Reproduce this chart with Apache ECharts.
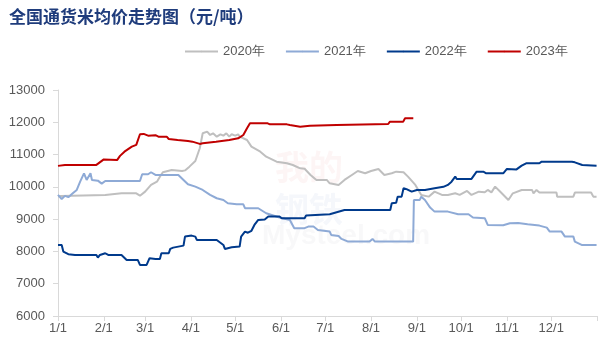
<!DOCTYPE html>
<html>
<head>
<meta charset="utf-8">
<script src="https://cdn.jsdelivr.net/npm/echarts@6/dist/echarts.min.js"></script>
<style>
html,body{margin:0;padding:0;background:#fff;}
#c{width:605px;height:353px;}
</style>
</head>
<body>
<div id="c"></div>
<script>
// Day-of-year (0 = 1/1) and price in 元/吨
const monthStarts = [0, 31, 59, 90, 120, 151, 181, 212, 243, 273, 304, 334];
const monthLabels = ['1/1','2/1','3/1','4/1','5/1','6/1','7/1','8/1','9/1','10/1','11/1','12/1'];
const yTicks = [6000, 7000, 8000, 9000, 10000, 11000, 12000, 13000];
const seriesNames = ['2020年', '2021年', '2022年', '2023年'];

const s2020 = [[0,9700],[2,9718],[32,9750],[43,9800],[53,9800],[55.5,9727],[59,9852],[63,10060],[67,10161],[69,10316],[71,10452],[77,10523],[84,10490],[86,10510],[89,10626],[93,10800],[96,11195],[98,11659],[101,11710],[103,11607],[105,11659],[107.5,11555],[110,11628],[112,11586],[114,11659],[116,11555],[117.6,11628],[120,11586],[122,11628],[123,11555],[128,11452],[131,11245],[137,11090],[141,10935],[148,10780],[155,10730],[159,10678],[164,10575],[167,10560],[171,10368],[175,10214],[182,10214],[184,10110],[190,10060],[194,10214],[199,10368],[203,10492],[208,10420],[212,10490],[217,10554],[221,10368],[226,10420],[229,10470],[234,10450],[237,10316],[242,10060],[246,9750],[251,9697],[255,9852],[260,9750],[264,9750],[269,9800],[272,9750],[277,9873],[280,9750],[285,9852],[289,9830],[291,9904],[293.5,9830],[296,10006],[299,9870],[305,9594],[308,9800],[314,9904],[321,9904],[322,9800],[324,9904],[326,9822],[337.6,9822],[338,9697],[349,9697],[350,9822],[361,9822],[362.5,9697],[364.7,9697]];

const s2021 = [[0,9750],[2.5,9625],[4.7,9720],[7,9680],[10,9800],[12.7,9904],[15,10161],[17.6,10420],[19.4,10214],[22,10420],[23,10214],[27,10192],[29.6,10099],[32,10183],[55.5,10183],[57,10390],[61,10390],[63,10452],[66,10368],[81.5,10368],[85,10214],[88,10081],[93,10006],[98,9904],[103,9750],[107.5,9647],[112,9594],[115,9492],[121,9461],[125.5,9461],[126.6,9338],[135.6,9338],[141,9183],[150,9050],[157,8975],[160,8720],[167,8720],[169.5,8770],[173,8770],[176,8666],[184,8614],[185,8510],[190,8480],[192,8387],[196.5,8304],[211,8304],[213,8387],[214.6,8304],[240.5,8304],[241,9594],[245,9594],[246,9697],[248.5,9594],[252,9357],[255,9233],[264,9233],[271,9150],[278,9150],[281,9050],[289,9030],[291,8820],[301.5,8810],[306,8872],[311.6,8880],[318,8842],[326,8800],[331,8738],[333,8614],[341,8614],[343.3,8459],[349,8459],[350,8304],[354.6,8201],[364.7,8201]];

const s2022 = [[0,8201],[2.5,8201],[3.6,7995],[7,7913],[11.5,7890],[26,7890],[27,7810],[28.4,7890],[29.6,7830],[32,7944],[34,7890],[43,7890],[46.5,7737],[54,7737],[55.5,7583],[60,7583],[62,7790],[66,7768],[69,7768],[70,7944],[75,7944],[76,8077],[78,8118],[85,8180],[86,8459],[90.5,8490],[93,8459],[94,8356],[107.5,8356],[112,8201],[113,8077],[117.6,8130],[123,8150],[124,8459],[126.6,8614],[128.6,8580],[131,8640],[133,8820],[135.6,8975],[140,8990],[142.4,9080],[150,9080],[151.5,9028],[167,9028],[168,9110],[184,9150],[194,9285],[225,9285],[226,9492],[229,9510],[230,9697],[232.7,9697],[234,9957],[236,9930],[239.5,9852],[243,9904],[248.5,9904],[255,9957],[261,10000],[264,10060],[266.5,10161],[269,10316],[270,10245],[280,10245],[283.5,10470],[288,10470],[290,10420],[301.5,10420],[304,10554],[310.5,10540],[314,10657],[314.6,10600],[317,10730],[326,10730],[327.5,10780],[348,10780],[350,10760],[355,10678],[364.7,10657]];

const s2023 = [[0,10650],[4.7,10680],[26,10680],[31,10850],[40,10830],[42,10960],[45,11090],[50,11245],[53,11300],[55.5,11630],[58,11640],[61,11585],[66,11600],[68,11555],[73.6,11555],[75,11483],[81,11452],[88,11420],[91,11400],[96,11330],[98,11350],[107,11400],[116,11452],[122,11504],[125.5,11607],[128,11813],[130,11968],[142,11968],[143.5,11936],[155,11936],[157,11916],[164,11865],[170.6,11895],[188.7,11916],[189.5,11947],[223.6,11947],[224.8,12020],[233.8,12020],[235,12124],[240.6,12124]];

const colors = ['#bfbfbf', '#8eaad6', '#003a8c', '#c00000'];
const allData = [s2020, s2021, s2022, s2023];

const chart = echarts.init(document.getElementById('c'), null, {renderer: 'canvas'});
chart.setOption({
  animation: false,
  backgroundColor: '#ffffff',
  title: {
    text: '全国通货米均价走势图（元/吨）',
    left: 4, top: 3,
    textStyle: {fontFamily: 'Noto Sans CJK SC', fontWeight: 'bold', fontSize: 17, color: '#1f3c7c'}
  },
  graphic: [
    {type: 'text', left: 275, top: 150, z: 0, silent: true,
     style: {text: '我的', font: 'bold 34px "Noto Sans CJK SC"', fill: 'rgba(220,60,60,0.05)'}},
    {type: 'text', left: 275, top: 192, z: 0, silent: true,
     style: {text: '钢铁', font: 'bold 34px "Noto Sans CJK SC"', fill: 'rgba(60,90,170,0.05)'}},
    {type: 'text', left: 262, top: 222, z: 0, silent: true,
     style: {text: 'Mysteel.com', font: 'bold 28px Arial', fill: 'rgba(120,120,140,0.05)'}}
  ],
  legend: {
    left: 179, top: 40,
    itemWidth: 33, itemHeight: 2, itemGap: 20,
    data: seriesNames,
    textStyle: {fontFamily: 'Arial', fontSize: 13, color: '#595959'}
  },
  grid: {left: 58, right: 8, top: 90, bottom: 37, containLabel: false},
  xAxis: {
    type: 'value', min: 0, max: 365,
    splitLine: {show: false},
    axisLine: {lineStyle: {color: '#d9d9d9', width: 1}},
    axisTick: {show: true, length: 5, lineStyle: {color: '#d9d9d9'}, customValues: monthStarts.concat([365])},
    axisLabel: {
      customValues: monthStarts,
      formatter: function (v) { const i = monthStarts.indexOf(v); return i >= 0 ? monthLabels[i] : ''; },
      fontFamily: 'Arial', fontSize: 13, color: '#595959', margin: 6
    }
  },
  yAxis: {
    type: 'value', min: yTicks[0], max: yTicks[yTicks.length - 1], interval: 1000,
    splitLine: {show: false},
    axisLine: {show: true, lineStyle: {color: '#d9d9d9', width: 1}},
    axisTick: {show: true, length: 5, lineStyle: {color: '#d9d9d9'}},
    axisLabel: {fontFamily: 'Arial', fontSize: 13, color: '#595959', margin: 13,
      formatter: function (v) { return String(v); }}
  },
  series: allData.map((d, i) => ({
    name: seriesNames[i],
    type: 'line',
    data: d,
    symbol: 'none',
    smooth: false,
    z: 2 + i,
    lineStyle: {color: colors[i], width: 2},
    itemStyle: {color: colors[i]}
  }))
});
</script>
</body>
</html>
